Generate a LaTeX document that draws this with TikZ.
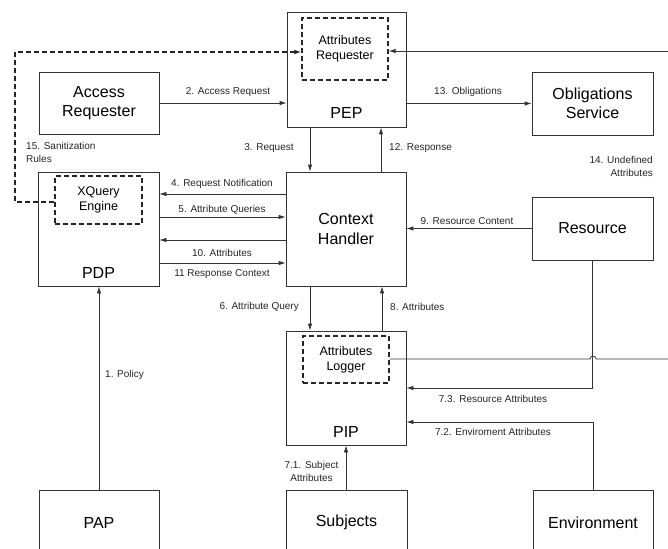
\documentclass[tikz,border=0pt]{standalone}
\usepackage{fontspec}
\setmainfont{Liberation Sans}
\usetikzlibrary{arrows.meta}
\tikzset{
  box/.style={draw=black!80, line width=0.8pt, rectangle, inner sep=0pt, align=center,
              font=\fontsize{16}{19.5}\selectfont},
  dbox/.style={draw=black!85, line width=1.4pt, dash pattern=on 5pt off 3pt, rectangle, inner sep=0pt,
              align=center, font=\fontsize{12.5}{15}\selectfont},
  conn/.style={draw=black!80, line width=0.8pt},
  arr/.style={conn, -{Latex[length=7pt,width=4.5pt]}},
  darr/.style={draw=black!85, line width=1.4pt, dash pattern=on 5pt off 3pt, -{Latex[length=7pt,width=5pt]}},
  lbl/.style={font=\fontsize{10}{13.5}\selectfont, inner sep=0pt, text=black!85},
  blbl/.style={font=\fontsize{16}{19}\selectfont, inner sep=0pt}
}
\begin{document}
\begin{tikzpicture}[x=1pt,y=-1pt]
\useasboundingbox (0,0) rectangle (668,548);
\begin{scope}
\clip (0,0) rectangle (668,548);
% boxes
\node[box, minimum width=119pt, minimum height=115pt] (PEP) at (346.5,69.5) {};
\node[blbl] (PEPl) at (346.5,113) {PEP};
\node[dbox, minimum width=86pt, minimum height=62pt] (AttrReq) at (345,49) {Attributes\\Requester};
\node[box, minimum width=120pt, minimum height=62pt] (AccReq) at (99,103) {Access\\Requester};
\node[box, minimum width=121pt, minimum height=63pt] (ObS) at (592.5,103.5) {Obligations\\Service};
\node[box, minimum width=121pt, minimum height=114pt] (PDP) at (98.5,229) {};
\node[blbl] (PDPl) at (98.5,273) {PDP};
\node[dbox, minimum width=87pt, minimum height=48pt] (XQ) at (98.5,200) {XQuery\\Engine};
\node[box, minimum width=120pt, minimum height=114pt, font=\fontsize{16}{20}\selectfont] (CH) at (346,229) {Context\\Handler};
\node[box, minimum width=121pt, minimum height=63pt] (Res) at (592.5,228.5) {Resource};
\node[box, minimum width=120pt, minimum height=114pt] (PIP) at (346,388) {};
\node[blbl] (PIPl) at (346,432) {PIP};
\node[dbox, minimum width=86pt, minimum height=47pt] (Log) at (346,359.5) {Attributes\\Logger};
\node[box, minimum width=120pt, minimum height=65pt] (PAP) at (99,522.5) {PAP};
\node[box, minimum width=121pt, minimum height=65pt] (Subj) at (346.5,522.5) {Subjects};
\node[box, minimum width=120pt, minimum height=65pt] (Env) at (593,522.5) {Environment};
% free ends on the right edge
\coordinate (edgeTop) at (668,51);
\coordinate (edgeLog) at (668,359);
\coordinate (sanit) at (15,52);
% connectors
\draw[arr] (AccReq.east) -- (AccReq.east -| PEP.west);
\node[lbl] at (228,92) {2. Access Request};
\draw[arr] (ObS.west -| PEP.east) -- (ObS.west);
\node[lbl] at (468,92) {13. Obligations};
\draw[darr] (XQ.west |- 0,202) -- (sanit |- 0,202) -- (sanit) -- (AttrReq.west |- sanit);
\node[lbl, align=left, anchor=north west] at (26,142) {15. Sanitization\\Rules};
\draw[arr] (edgeTop) -- (AttrReq.east |- edgeTop);
\node[lbl, align=right, anchor=north east] at (653,156) {14. Undefined\\Attributes};
\draw[arr] (PEP.south -| 310,0) -- (CH.north -| 310,0);
\node[lbl] at (269,148) {3. Request};
\draw[arr] (CH.north -| 381,0) -- (PEP.south -| 381,0);
\node[lbl, anchor=west] at (389,148) {12. Response};
\draw[arr] (CH.west |- 0,194) -- (PDP.east |- 0,194);
\node[lbl] at (222,184) {4. Request Notification};
\draw[arr] (PDP.east |- 0,217) -- (CH.west |- 0,217);
\node[lbl] at (222,210) {5. Attribute Queries};
\draw[arr] (CH.west |- 0,240) -- (PDP.east |- 0,240);
\draw[arr] (PDP.east |- 0,263) -- (CH.west |- 0,263);
\node[lbl] at (222,253) {10. Attributes};
\node[lbl] at (222,274) {11 Response Context};
\draw[arr] (Res.west) -- (Res.west -| CH.east);
\node[lbl] at (467,221) {9. Resource Content};
\draw[arr] (CH.south -| 310,0) -- (PIP.north -| 310,0);
\node[lbl, anchor=east] at (299,307) {6. Attribute Query};
\draw[arr] (PIP.north -| 382,0) -- (CH.south -| 382,0);
\node[lbl, anchor=west] at (390,307) {8. Attributes};
\draw[conn] (Log.east |- edgeLog) -- (590,359) arc (180:360:3) -- (edgeLog);
\draw[arr] (Res.south) -- (Res.south |- 0,388) -- (PIP.east |- 0,388);
\node[lbl] at (493,399) {7.3. Resource Attributes};
\draw[arr] (Env.north -| 593,0) -- (593,422) -- (PIP.east |- 0,422);
\node[lbl] at (493,432) {7.2. Enviroment Attributes};
\draw[arr] (Subj.north -| 346,0) -- (PIP.south -| 346,0);
\node[lbl, align=center] at (311.5,471.5) {7.1. Subject\\Attributes};
\draw[arr] (PAP.north -| 99,0) -- (PDP.south -| 99,0);
\node[lbl, anchor=west] at (105,375) {1. Policy};
\end{scope}
\end{tikzpicture}
\end{document}
